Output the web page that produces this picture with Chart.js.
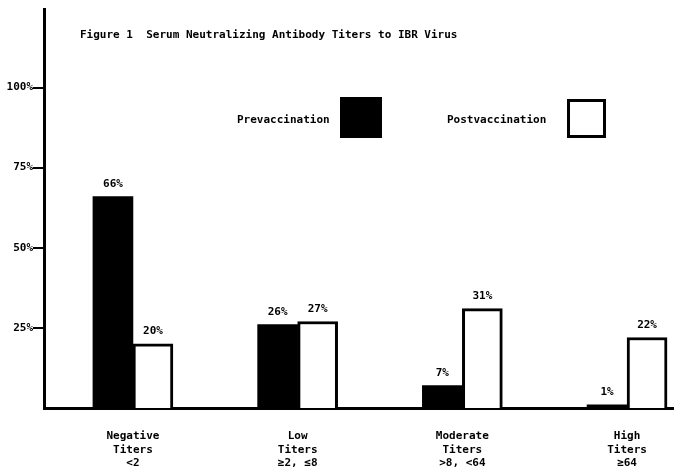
<!DOCTYPE html>
<html>
<head>
<meta charset="utf-8">
<script src="https://cdn.jsdelivr.net/npm/chart.js@4/dist/chart.umd.min.js"></script>
<style>
  html, body { margin: 0; padding: 0; background: #fff; overflow: hidden; }
  canvas { display: block; }
</style>
</head>
<body>
<canvas id="chart" width="674" height="470"></canvas>
<script>
// データ
const categories = [
  ["Negative", "Titers", "<2"],
  ["Low", "Titers", "≥2, ≤8"],
  ["Moderate", "Titers", ">8, <64"],
  ["High", "Titers", "≥64"]
];
const prevaccination = [66, 26, 7, 1];
const postvaccination = [20, 27, 31, 22];
const yTicks = [25, 50, 75, 100];
const titleText = "Figure 1  Serum Neutralizing Antibody Titers to IBR Virus";

const FONT = "'DejaVu Sans Mono', monospace";
const INK = "#000";

// 棒の上に%ラベル
const valueLabels = {
  id: "valueLabels",
  afterDatasetsDraw(chart) {
    const ctx = chart.ctx;
    ctx.save();
    ctx.font = "bold 11px " + FONT;
    ctx.fillStyle = INK;
    ctx.textAlign = "center";
    ctx.textBaseline = "bottom";
    chart.data.datasets.forEach((ds, di) => {
      chart.getDatasetMeta(di).data.forEach((bar, i) => {
        ctx.fillText(ds.data[i].y + "%", bar.x, bar.y - 7);
      });
    });
    ctx.restore();
  }
};

// タイトルと凡例（元図の位置に手描き）
const decorations = {
  id: "decorations",
  afterDraw(chart) {
    const ctx = chart.ctx;
    ctx.save();
    ctx.font = "bold 11px " + FONT;
    ctx.fillStyle = INK;
    ctx.textBaseline = "middle";
    ctx.textAlign = "left";
    ctx.fillText(titleText, 80, 35);

    const ds = chart.data.datasets;
    ctx.fillText(ds[0].label, 237, 120);
    ctx.fillStyle = "#000";
    ctx.fillRect(340, 97, 42, 41);

    ctx.fillStyle = INK;
    ctx.fillText(ds[1].label, 447, 120);
    ctx.strokeStyle = "#000";
    ctx.lineWidth = 3;
    ctx.strokeRect(568.5, 100.5, 36, 36);
    ctx.restore();
  }
};

const toPoints = arr => arr.map((v, i) => ({ x: i, y: v }));

new Chart(document.getElementById("chart"), {
  type: "bar",
  data: {
    datasets: [
      {
        label: "Prevaccination",
        data: toPoints(prevaccination),
        backgroundColor: "#000",
        borderColor: "#000",
        borderWidth: 0,
        barThickness: 40
      },
      {
        label: "Postvaccination",
        data: toPoints(postvaccination),
        backgroundColor: "#fff",
        borderColor: "#000",
        borderWidth: 3,
        barThickness: 40
      }
    ]
  },
  options: {
    responsive: false,
    animation: false,
    layout: { padding: { top: 9, right: 0, left: 0, bottom: 0 } },
    plugins: {
      legend: { display: false },
      tooltip: { enabled: false }
    },
    scales: {
      x: {
        type: "linear",
        offset: false,
        min: -0.54,
        max: 3.285,
        afterBuildTicks: s => { s.ticks = categories.map((_, i) => ({ value: i })); },
        afterFit: s => { s.height = 62; },
        grid: { display: true, drawOnChartArea: false, drawTicks: false },
        border: { display: true, color: "#000", width: 3 },
        ticks: {
          autoSkip: false,
          maxRotation: 0,
          padding: 22,
          color: INK,
          font: { family: FONT, size: 11, weight: "bold", lineHeight: 1.2 },
          callback: v => categories[v] || ""
        }
      },
      y: {
        min: 0,
        max: 124.5,
        afterBuildTicks: s => { s.ticks = yTicks.map(v => ({ value: v })); },
        afterFit: s => { s.width = 44; },
        grid: { display: true, drawOnChartArea: false, drawTicks: true, tickLength: 11, color: "#000", lineWidth: 2 },
        border: { display: true, color: "#000", width: 3 },
        ticks: {
          padding: 0,
          color: INK,
          font: { family: FONT, size: 11, weight: "bold" },
          callback: v => v + "%"
        }
      }
    }
  },
  plugins: [valueLabels, decorations]
});
</script>
</body>
</html>
